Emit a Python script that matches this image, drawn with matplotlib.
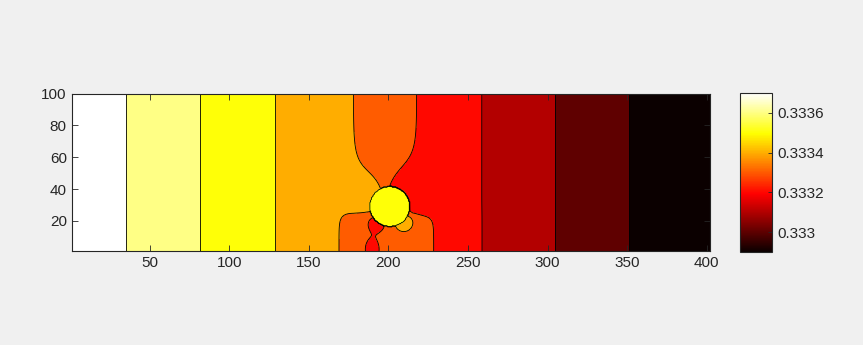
import numpy as np
import matplotlib
matplotlib.use("Agg")
import matplotlib.pyplot as plt
from matplotlib.colors import Normalize

# level values of the filled contours and x where each level crosses (away from the cylinder)
level_vals = [0.3337, 0.3336, 0.3335, 0.3334, 0.3333, 0.3332, 0.3331, 0.3330]
level_x = [35.3, 81.9, 129.0, 178.0, 217.7, 258.6, 304.5, 351.0]
p_in = 0.33377   # value at the left edge
p_out = 0.33289  # value at the right edge

# colour range (colorbar ends)
vmin = 0.3329
vmax = 0.3337

# domain and cylinder
x_range = [1, 402]
y_range = [1, 100]
cyl_x, cyl_y, cyl_r = 200.8, 29.0, 12.6
cyl_val = 0.33355
mid_val = 0.33335
max_extra = 0.00005  # largest change of the field next to the cylinder

# local anomalies under the cylinder: x, y, sx, sy, amplitude
blob_x = [189.5, 192.0, 210.0]
blob_y = [2.0, 18.0, 19.0]
blob_sx = [5.0, 6.0, 6.0]
blob_sy = [8.0, 6.0, 6.0]
blob_amp = [-0.00013, -0.00012, 0.00017]

xticks = [50, 100, 150, 200, 250, 300, 350, 400]
yticks = [20, 40, 60, 80, 100]
cbar_ticks = [0.333, 0.3332, 0.3334, 0.3336]
cbar_labels = ["0.333", "0.3332", "0.3334", "0.3336"]


def make_field():
    xs = np.arange(x_range[0], x_range[1] + 0.01, 0.5)
    ys = np.arange(y_range[0], y_range[1] + 0.01, 0.5)
    X, Y = np.meshgrid(xs, ys)
    base = np.interp(X, [x_range[0]] + level_x + [x_range[1]],
                     [p_in] + level_vals + [p_out])
    r = np.hypot(X - cyl_x, Y - cyl_y)
    up = 1.0 / (1.0 + np.exp(-(Y - 27.0) / 2.0))
    low = 1.0 / (1.0 + np.exp((Y - 27.0) / 3.0))
    near = np.exp(-((X - cyl_x) / 35.0) ** 4)
    # pressure gradient is steeper next to the cylinder, flatter in the gap below it
    enh = 6.0 * np.exp(-np.clip(r - cyl_r, 0, None) / 7.0) * up * near
    extra = np.clip((base - mid_val) * enh, -max_extra, max_extra)
    damp = 1.0 - 0.45 * np.exp(-((X - 201.0) / 38.0) ** 4) * low
    P = mid_val + (base - mid_val) * damp + extra
    for bx, by, sx, sy, a in zip(blob_x, blob_y, blob_sx, blob_sy, blob_amp):
        P = P + a * np.exp(-((X - bx) / sx) ** 2 - ((Y - by) / sy) ** 2)
    P[r <= cyl_r] = cyl_val
    return X, Y, P


def main():
    X, Y, P = make_field()
    levels = sorted(level_vals)
    band_low = np.array([vmin] + levels)
    colors = plt.cm.hot(np.clip((band_low - vmin) / (vmax - vmin), 0, 1))

    fig = plt.figure(figsize=(8.63, 3.45), dpi=100, facecolor="#f0f0f0")
    ax = fig.add_axes([0.0831, 0.2725, 0.7396, 0.456])
    ax.contourf(X, Y, P, levels=[-1.0] + levels + [1.0], colors=colors)
    ax.contour(X, Y, P, levels=levels, colors="k", linewidths=0.6)

    ax.set_xlim(x_range)
    ax.set_ylim(y_range)
    ax.set_xticks(xticks)
    ax.set_yticks(yticks)
    ax.tick_params(direction="in", top=True, right=True, length=4, width=0.6,
                   colors="#262626", labelsize=11)
    for lab in ax.get_xticklabels() + ax.get_yticklabels():
        lab.set_family("Liberation Sans")
    for s in ax.spines.values():
        s.set_color("#262626")
        s.set_linewidth(0.8)

    cax = fig.add_axes([0.8575, 0.2696, 0.0371, 0.4609])
    sm = plt.cm.ScalarMappable(norm=Normalize(vmin, vmax), cmap="hot")
    cb = fig.colorbar(sm, cax=cax)
    cb.set_ticks(cbar_ticks)
    cb.set_ticklabels(cbar_labels)
    cax.tick_params(direction="in", length=3, width=0.6, colors="#262626", labelsize=11)
    for lab in cax.get_yticklabels():
        lab.set_family("Liberation Sans")
    cb.outline.set_edgecolor("#262626")
    cb.outline.set_linewidth(0.8)

    fig.savefig("out.png", dpi=100, facecolor=fig.get_facecolor())


if __name__ == "__main__":
    main()
